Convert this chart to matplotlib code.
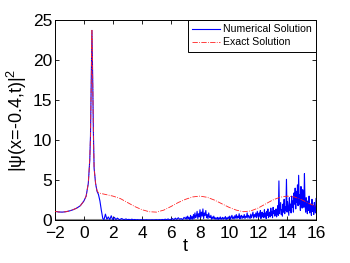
import matplotlib
matplotlib.use('Agg')
import matplotlib.pyplot as plt
import numpy as np

# exact solution
exact_t = [-2, -1.75, -1.5, -1.25, -1, -0.75, -0.5, -0.25, 0, 0.15, 0.3, 0.4, 0.45, 0.5, 0.55,
           0.6, 0.65, 0.7, 0.8, 0.9, 1.0, 1.5, 2, 2.5, 3, 3.5, 4, 4.5, 5, 5.5, 6, 6.5, 7, 7.5,
           8, 8.5, 9, 9.5, 10, 10.5, 11, 11.5, 12, 12.5, 13, 13.5, 14, 14.5, 15, 15.5, 16]
exact_y = [1.1, 1.02, 1.0, 1.05, 1.15, 1.3, 1.5, 1.8, 2.4, 3.0, 4.6, 7.5, 10.5, 17.0, 23.7,
           18.0, 11.0, 6.5, 4.6, 3.7, 3.4, 3.2, 3.0, 2.7, 2.2, 1.7, 1.3, 1.05, 1.0, 1.25, 1.7,
           2.2, 2.6, 2.9, 3.0, 2.85, 2.5, 2.05, 1.6, 1.25, 1.05, 1.15, 1.5, 2.0, 2.5, 2.85,
           3.0, 2.9, 2.55, 2.1, 1.7]

# numerical solution: peak part, then the ringing after the peak
num_t_start = [-2, -1.75, -1.5, -1.25, -1, -0.75, -0.5, -0.25, 0, 0.15, 0.3, 0.4, 0.45, 0.5,
               0.55, 0.6, 0.65, 0.7, 0.8, 0.9, 1.0, 1.1, 1.2, 1.3, 1.38, 1.48, 1.58, 1.68,
               1.78, 1.88, 1.98, 2.1, 2.2, 2.3, 2.45, 2.6, 2.75, 2.9, 3.0]
num_y_start = [1.1, 1.02, 1.0, 1.05, 1.15, 1.3, 1.5, 1.8, 2.4, 3.0, 4.6, 7.5, 10.5, 17.0,
               23.7, 18.0, 11.0, 6.5, 4.6, 3.6, 3.2, 2.4, 1.2, 0.2, 0.05, 0.75, 0.1, 0.4,
               0.05, 0.55, 0.05, 0.35, 0.05, 0.25, 0.05, 0.2, 0.05, 0.15, 0.05]

# 3.1 .. 7.0, step 0.1
num_y_low = [0.1, 0.03, 0.12, 0.04, 0.08, 0.03, 0.06, 0.02, 0.05, 0.03,
             0.04, 0.02, 0.05, 0.02, 0.03, 0.02, 0.04, 0.02, 0.03, 0.05,
             0.02, 0.06, 0.03, 0.08, 0.04, 0.12, 0.05, 0.15, 0.04, 0.1,
             0.2, 0.05, 0.25, 0.08, 0.3, 0.1, 0.2, 0.05, 0.35, 0.15]

# 7.05 .. 12.0, step 0.05
num_y_mid = [0.4, 0.1, 0.5, 0.2, 0.3, 0.05, 0.6, 0.15, 0.45, 0.1,
             0.7, 0.2, 0.9, 0.3, 0.5, 1.1, 0.2, 0.8, 0.4, 1.3,
             0.3, 1.0, 0.5, 1.4, 0.2, 0.9, 0.6, 1.2, 0.3, 0.7,
             0.2, 0.9, 0.4, 0.3, 0.6, 0.1, 0.4, 0.2, 0.5, 0.15,
             0.3, 0.1, 0.25, 0.35, 0.05, 0.3, 0.15, 0.4, 0.1, 0.2,
             0.35, 0.1, 0.3, 0.2, 0.45, 0.05, 0.3, 0.15, 0.4, 0.2,
             0.5, 0.1, 0.35, 0.6, 0.2, 0.4, 0.15, 0.55, 0.25, 0.7,
             0.2, 0.5, 0.3, 0.8, 0.15, 0.45, 0.6, 0.2, 0.5, 0.3,
             0.7, 0.2, 0.5, 0.35, 0.9, 0.25, 0.6, 0.4, 0.2, 0.75,
             0.3, 0.6, 1.0, 0.25, 0.7, 0.4, 0.9, 0.3, 1.1, 0.5]

# 12.04 .. 16.0, step 0.04
num_y_end = [0.3, 0.9, 0.5, 1.2, 0.2, 0.7, 1.0, 0.4, 0.8, 0.3,
             1.3, 0.5, 0.9, 0.2, 1.1, 0.6, 1.4, 0.3, 0.8, 1.0,
             0.4, 1.5, 0.6, 1.1, 0.3, 1.6, 0.8, 1.2, 0.5, 1.0,
             1.4, 0.4, 0.9, 1.8, 0.6, 4.9, 0.8, 1.5, 2.2, 0.7,
             1.3, 0.5, 2.0, 1.0, 2.6, 0.8, 1.7, 1.2, 5.1, 1.0,
             2.3, 1.5, 0.6, 2.8, 1.2, 2.0, 0.9, 3.0, 1.6, 2.4,
             1.0, 3.4, 2.0, 4.0, 1.4, 3.6, 2.2, 4.4, 1.8, 5.6,
             2.0, 3.2, 1.2, 4.2, 2.4, 1.5, 3.8, 2.8, 1.6, 5.8,
             2.2, 1.0, 2.8, 1.5, 0.8, 2.4, 1.2, 3.0, 0.9, 2.0,
             1.4, 0.6, 2.6, 1.1, 1.8, 0.7, 2.2, 1.3, 0.9, 2.7]

num_t = np.concatenate([num_t_start,
                        np.arange(1, 41) * 0.1 + 3.0,
                        np.arange(1, 101) * 0.05 + 7.0,
                        np.arange(1, 101) * 0.04 + 12.0])
num_y = np.concatenate([num_y_start, num_y_low, num_y_mid, num_y_end])

plt.rcParams['font.family'] = ['Liberation Sans', 'DejaVu Sans']
plt.rcParams['mathtext.fontset'] = 'custom'
plt.rcParams['mathtext.rm'] = 'Liberation Sans'
plt.rcParams['mathtext.it'] = 'Liberation Sans'

fig = plt.figure(figsize=(3.5, 2.63), dpi=100)
ax = fig.add_axes([0.157, 0.163, 0.746, 0.761])

ax.axhline(0, color='0.55', lw=2.2, zorder=1)
ax.plot(num_t, num_y, '-', color='#0000ff', lw=0.8, label='Numerical Solution', zorder=2)
ax.plot(exact_t, exact_y, '-.', color='#ff2020', lw=0.6, label='Exact Solution', zorder=3)

ax.set_xlim(-2, 16)
ax.set_ylim(0, 25)
ax.set_xticks(range(-2, 17, 2))
ax.set_yticks(range(0, 26, 5))
ax.set_xticklabels(['\u22122'] + [str(v) for v in range(0, 17, 2)])
ax.tick_params(direction='in', top=True, right=True, labelsize=12.5, length=3, width=0.6)
ax.tick_params(axis='x', pad=4)
ax.tick_params(axis='y', pad=2)
for s in ax.spines.values():
    s.set_linewidth(0.7)

ax.set_xlabel('t', fontsize=13, labelpad=-2)
ax.set_ylabel('|ψ(x=-0.4,t)|$^{2}$', fontsize=13, labelpad=3)

leg = ax.legend(loc='upper right', fontsize=7.6, fancybox=False, framealpha=1,
                edgecolor='black', borderaxespad=0, handlelength=2.6,
                borderpad=0.4, labelspacing=0.3, handletextpad=0.3)
leg.get_frame().set_linewidth(0.7)

fig.savefig('out.png', dpi=100)
